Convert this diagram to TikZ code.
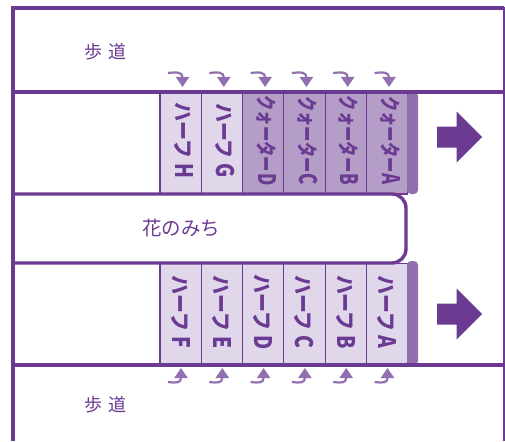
\documentclass[tikz,border=0pt]{standalone}
\usepackage{fontspec}
\newfontfamily\jpfont{Noto Sans CJK JP}
\usetikzlibrary{arrows.meta}
\definecolor{walkline}{HTML}{6B3A92}
\definecolor{halffill}{HTML}{E0D8EA}
\definecolor{quarterfill}{HTML}{B49DC6}
\definecolor{barfill}{HTML}{9270B0}

\tikzset{
  stall/.style={draw=walkline, line width=1.2pt, rotate=-90, inner sep=0pt,
    minimum width=102pt, minimum height=41.3pt},
  stalltext/.style={rotate=-90, inner sep=0pt, xshift=-2.5pt, text=walkline, font=\jpfont\bfseries\fontsize{21}{21}\selectfont},
  walkname/.style={inner sep=0pt, text=walkline, font=\jpfont\fontsize{18}{18}\selectfont},
  road/.style={draw=walkline, line width=3.4pt},
  bar/.style={fill=barfill, rounded corners=4pt},
  flow/.style={fill=walkline, draw=none},
  turn/.style={draw=barfill, line width=2.2pt, -{Triangle[length=10pt,width=13pt]}},
}
\newcommand{\halfmark}[1]{\scalebox{0.9}[1]{ハーフ}\hspace{5pt}\scalebox{0.92}[1.15]{#1}}
\newcommand{\quartermark}[1]{\scalebox{0.73}[1]{クォーター}\hspace{1pt}\scalebox{0.8}[1.15]{#1}}

\begin{document}
\begin{tikzpicture}[x=1pt, y=-1pt]
\useasboundingbox (0,0) rectangle (505,441);

% stalls, upper row
\foreach \name/\col/\kind/\txt in {H/0/half/\halfmark{H}, G/1/half/\halfmark{G}, D/2/quarter/\quartermark{D},
    C/3/quarter/\quartermark{C}, B/4/quarter/\quartermark{B}, A/5/quarter/\quartermark{A}} {
  \node[stall, fill=\kind fill] (up\name) at ({180.6+41.3*\col},143) {};
  \node[stalltext, yshift=3pt] (uptext\name) at (up\name) {\txt};
}
% stalls, lower row
\foreach \name/\col in {F/0, E/1, D/2, C/3, B/4, A/5} {
  \node[stall, fill=halffill] (low\name) at ({180.6+41.3*\col},314.5) {};
  \node[stalltext] (lowtext\name) at (low\name) {\halfmark{\name}};
}

% end bars
\node[bar, minimum width=11pt, minimum height=102pt, inner sep=0pt] (upbar) at (412.5,143) {};
\node[bar, minimum width=11pt, minimum height=104pt, inner sep=0pt] (lowbar) at (412.5,313) {};

% outline of the walkways
\draw[walkline, line width=4pt] (13,441) -- (13,8) -- (504,8);
\draw[walkline, line width=2pt] (504,7) -- (504,441);
\draw[road] (13,92) -- (504,92);
\draw[road] (13,365) -- (504,365);
\draw[road, rounded corners=14pt] (13,194) -- (406,194) -- (406,263) -- (13,263);

% direction arrows
\foreach \y in {137,314} {
  \fill[flow] (437,\y-10.5) -- (456.5,\y-10.5) -- (456.5,\y-25.5) -- (482,\y)
    -- (456.5,\y+25.5) -- (456.5,\y+10.5) -- (437,\y+10.5) -- cycle;
}

% small arrows into the stalls
\foreach \col in {0,...,5} {
  \coordinate (topfrom\col) at ({168+41.3*\col},73);
  \coordinate (topto\col) at ({182.5+41.3*\col},87);
  \draw[turn] (topfrom\col) .. controls +(9,-1) and +(0,-15) .. (topto\col);
  \coordinate (lowfrom\col) at ({168+41.3*\col},382);
  \coordinate (lowto\col) at ({181+41.3*\col},368);
  \draw[turn] (lowfrom\col) .. controls +(9,1) and +(0,15) .. (lowto\col);
}

\node[walkname] (upperwalk) at (105.5,52) {歩\hspace{6pt}道};
\node[walkname] (lowerwalk) at (105.5,405) {歩\hspace{6pt}道};
\node[walkname, font=\jpfont\fontsize{19.5}{19.5}\selectfont] (flowerway) at (181,228) {花のみち};
\end{tikzpicture}
\end{document}
